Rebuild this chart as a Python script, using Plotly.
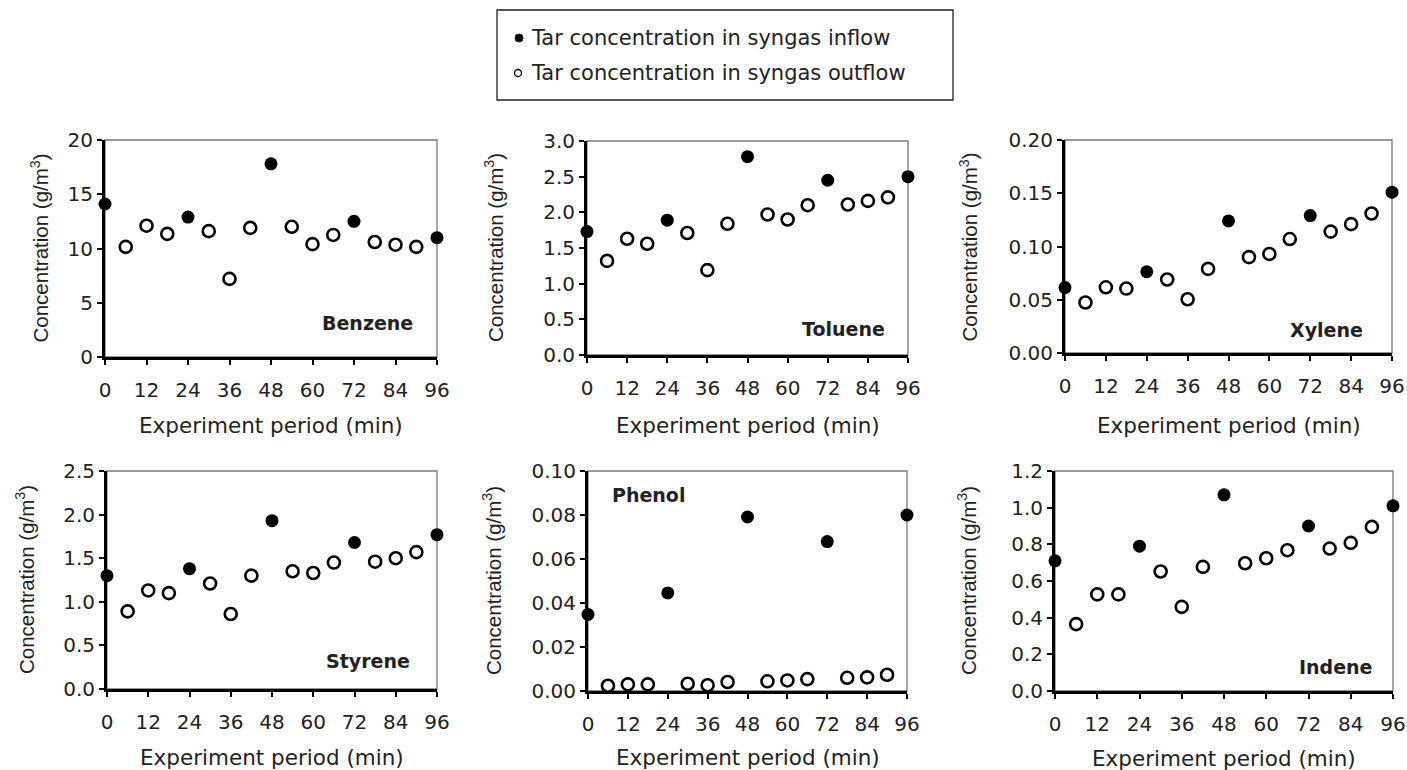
import plotly.graph_objects as go

W, H = 1407, 770

# ---------------- data ----------------
times_in = [0, 24, 48, 72, 96]
times_out = [6, 12, 18, 30, 36, 42, 54, 60, 66, 78, 84, 90]
x_ticks = [0, 12, 24, 36, 48, 60, 72, 84, 96]

compounds = ["Benzene", "Toluene", "Xylene", "Styrene", "Phenol", "Indene"]

benzene_in = [14.1, 12.9, 17.8, 12.5, 11.0]
benzene_out = [10.15, 12.1, 11.35, 11.6, 7.2, 11.9, 12.0, 10.4, 11.25, 10.6, 10.35, 10.15]

toluene_in = [1.73, 1.89, 2.78, 2.45, 2.50]
toluene_out = [1.32, 1.63, 1.56, 1.71, 1.19, 1.84, 1.97, 1.90, 2.10, 2.11, 2.16, 2.21]

xylene_in = [0.0614, 0.0763, 0.124, 0.129, 0.151]
xylene_out = [0.0474, 0.0617, 0.0605, 0.069, 0.0505, 0.079, 0.090, 0.093, 0.107, 0.114, 0.121, 0.131]

styrene_in = [1.30, 1.38, 1.93, 1.68, 1.77]
styrene_out = [0.89, 1.13, 1.10, 1.21, 0.86, 1.30, 1.35, 1.33, 1.45, 1.46, 1.50, 1.57]

phenol_in = [0.0348, 0.0446, 0.0791, 0.0679, 0.0800]
phenol_out = [0.0024, 0.0030, 0.0030, 0.0033, 0.0026, 0.0041, 0.0044, 0.0048, 0.0054, 0.0060, 0.0062, 0.0074]

indene_in = [0.71, 0.79, 1.07, 0.90, 1.01]
indene_out = [0.365, 0.527, 0.527, 0.652, 0.459, 0.677, 0.697, 0.724, 0.768, 0.777, 0.808, 0.895]

inflow = [benzene_in, toluene_in, xylene_in, styrene_in, phenol_in, indene_in]
outflow = [benzene_out, toluene_out, xylene_out, styrene_out, phenol_out, indene_out]

y_max = [20, 3.0, 0.20, 2.5, 0.10, 1.2]
y_dtick = [5, 0.5, 0.05, 0.5, 0.02, 0.2]
y_fmt = ["d", ".1f", ".2f", ".1f", ".2f", ".1f"]

legend_labels = ["Tar concentration in syngas inflow", "Tar concentration in syngas outflow"]
x_title = "Experiment period (min)"
y_title = "Concentration (g/m<sup>3</sup>)"

# ---------------- layout geometry (pixels) ----------------
boxes = [(105, 437, 140, 357), (587, 908, 141, 355), (1065, 1392, 140, 353),
         (107, 437, 471, 689), (588, 907, 471, 691), (1055, 1393, 471, 691)]
ytitle_x = [39, 494, 968, 25, 492, 967]
xtitle_y = [425, 425, 425, 757, 757, 758]
label_pos = [(0.79, 0.157), (0.80, 0.12), (0.80, 0.11), (0.79, 0.13), (0.19, 0.89), (0.83, 0.11)]

TICKFONT = dict(family="DejaVu Sans", size=20, color="#222")
fig = go.Figure()
annotations = []
shapes = []

for i in range(6):
    n = "" if i == 0 else str(i + 1)
    xa, ya = "x" + n, "y" + n
    fig.add_trace(go.Scatter(
        x=times_out, y=outflow[i], mode="markers", xaxis=xa, yaxis=ya,
        marker=dict(size=12, color="white", line=dict(color="black", width=2.6)),
        cliponaxis=False, showlegend=False, name=legend_labels[1]))
    fig.add_trace(go.Scatter(
        x=times_in, y=inflow[i], mode="markers", xaxis=xa, yaxis=ya,
        marker=dict(size=13, color="black", line=dict(width=0)),
        cliponaxis=False, showlegend=False, name=legend_labels[0]))

    l, r, t, b = boxes[i]
    fig.layout["xaxis" + n] = dict(
        domain=[l / W, r / W], anchor=ya, range=[0, 96],
        tickmode="array", tickvals=x_ticks, ticks="outside", ticklen=5,
        tickwidth=1.5, tickcolor="black", showline=True, linewidth=3,
        linecolor="black", showgrid=False, zeroline=False,
        tickfont=TICKFONT, ticklabelstandoff=8, automargin=False)
    fig.layout["yaxis" + n] = dict(
        domain=[1 - b / H, 1 - t / H], anchor=xa, range=[0, y_max[i]],
        dtick=y_dtick[i], tick0=0, tickformat=y_fmt[i], ticks="outside",
        ticklen=5, tickwidth=1.5, tickcolor="black", showline=True,
        linewidth=3, linecolor="black", showgrid=False, zeroline=False,
        tickfont=TICKFONT, automargin=False)

    # thin grey frame (top/right)
    shapes.append(dict(type="rect", xref=xa + " domain", yref=ya + " domain",
                       x0=0, x1=1, y0=0, y1=1, layer="below",
                       line=dict(color="#777", width=1.3)))

    annotations.append(dict(text="<b>%s</b>" % compounds[i], xref=xa + " domain",
                            yref=ya + " domain", x=label_pos[i][0], y=label_pos[i][1],
                            showarrow=False, xanchor="center", yanchor="middle",
                            font=dict(family="DejaVu Sans", size=19, color="#222")))
    annotations.append(dict(text=y_title, xref="paper", yref=ya + " domain",
                            x=ytitle_x[i] / W, y=0.5, textangle=-90, showarrow=False,
                            xanchor="center", yanchor="middle",
                            font=dict(family="Liberation Sans", size=20.5, color="#222")))
    annotations.append(dict(text=x_title, xref=xa + " domain", yref="paper",
                            x=0.5, y=1 - xtitle_y[i] / H, showarrow=False,
                            xanchor="center", yanchor="middle",
                            font=dict(family="DejaVu Sans", size=21.5, color="#222")))

# ---------------- legend box ----------------
shapes.append(dict(type="rect", xref="paper", yref="paper",
                   x0=497 / W, x1=953 / W, y0=1 - 100 / H, y1=1 - 10 / H,
                   line=dict(color="#222", width=1.3), fillcolor="white"))
shapes.append(dict(type="circle", xref="paper", yref="paper",
                   x0=515 / W, x1=523 / W, y0=1 - 42 / H, y1=1 - 34 / H,
                   fillcolor="black", line=dict(color="#123", width=1)))
shapes.append(dict(type="circle", xref="paper", yref="paper",
                   x0=514.5 / W, x1=521.5 / W, y0=1 - 76.5 / H, y1=1 - 69.5 / H,
                   fillcolor="white", line=dict(color="black", width=1.3)))
for k, yy in enumerate([38, 73]):
    annotations.append(dict(text=legend_labels[k], xref="paper", yref="paper",
                            x=529 / W, y=1 - yy / H, showarrow=False,
                            xanchor="left", yanchor="middle",
                            font=dict(family="DejaVu Sans", size=21, color="#222")))

fig.update_layout(width=W, height=H, margin=dict(l=0, r=0, t=0, b=0),
                  paper_bgcolor="white", plot_bgcolor="white",
                  annotations=annotations, shapes=shapes, showlegend=False)

fig.write_html("out.html")
